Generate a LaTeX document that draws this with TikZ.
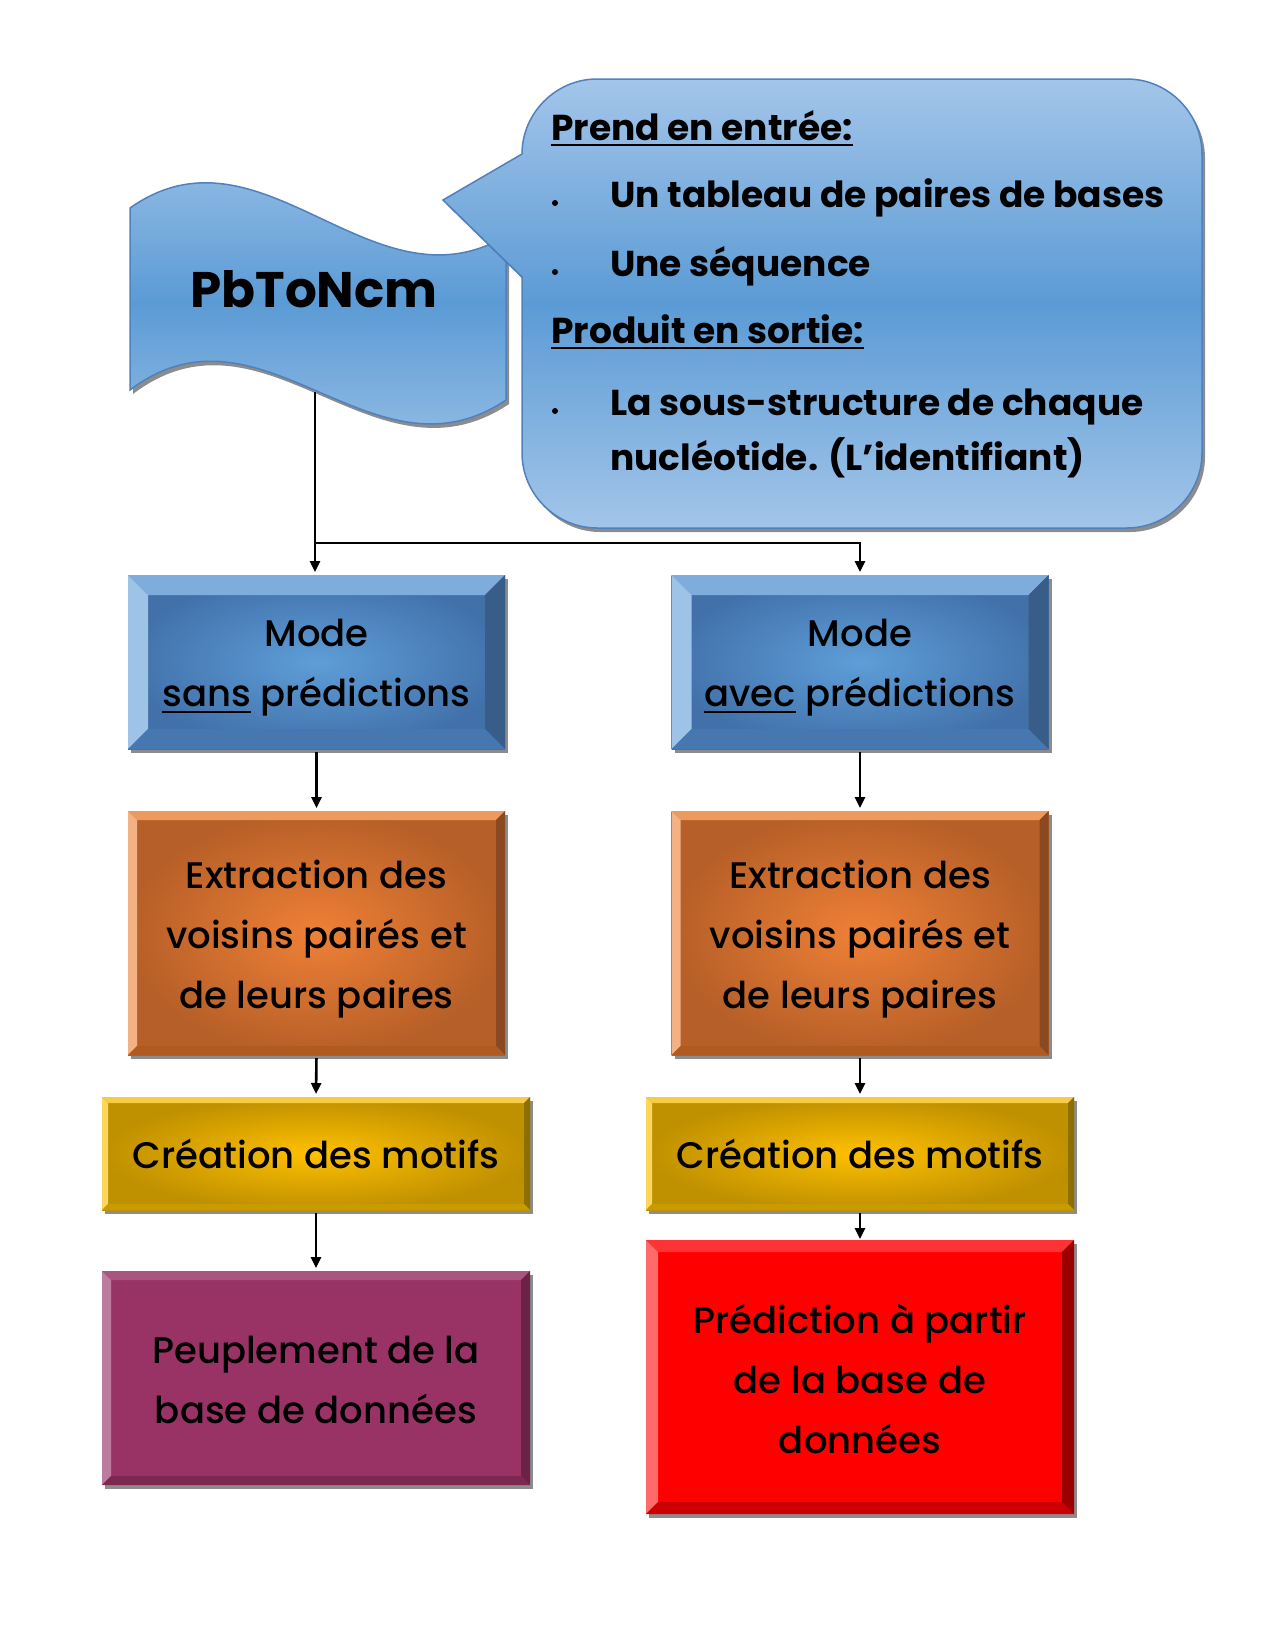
\documentclass[tikz,border=0pt]{standalone}
\usepackage{fontspec}
\setmainfont{Poppins}
\newfontfamily\medfont{Poppins Medium}
\usetikzlibrary{arrows.meta,calc,shadows}

% palette
\definecolor{skylight}{HTML}{A3C5E9}
\definecolor{skymid}{HTML}{5B9BD5}
\definecolor{skyedge}{HTML}{4F81BD}
\definecolor{bluein}{HTML}{5E9ED8}
\definecolor{blueout}{HTML}{4271AA}
\definecolor{bluetop}{HTML}{7EADDD}
\definecolor{blueleft}{HTML}{9DC3E6}
\definecolor{blueright}{HTML}{385D88}
\definecolor{bluebot}{HTML}{4677B0}
\definecolor{orgin}{HTML}{EF8036}
\definecolor{orgout}{HTML}{B65F28}
\definecolor{orgtop}{HTML}{EE9A5E}
\definecolor{orgleft}{HTML}{F4B183}
\definecolor{orgright}{HTML}{8A4920}
\definecolor{orgbot}{HTML}{B05A22}
\definecolor{goldin}{HTML}{FFC000}
\definecolor{goldout}{HTML}{BF9000}
\definecolor{goldtop}{HTML}{F6CB45}
\definecolor{goldleft}{HTML}{FFD55C}
\definecolor{goldright}{HTML}{8F6E00}
\definecolor{goldbot}{HTML}{C99B00}
\definecolor{plum}{HTML}{993366}
\definecolor{plumtop}{HTML}{A8567F}
\definecolor{plumleft}{HTML}{BE7BA0}
\definecolor{plumright}{HTML}{6A2346}
\definecolor{plumbot}{HTML}{7B2951}
\definecolor{redtop}{HTML}{FF3333}
\definecolor{redleft}{HTML}{FF6B6B}
\definecolor{redright}{HTML}{9B0000}
\definecolor{redbot}{HTML}{CC0000}

\newcommand\boxfont{\medfont\fontsize{37}{60}\selectfont}
\newcommand\callfont{\fontsize{36}{40}\selectfont\bfseries}
% underline set a little lower and thicker than the default one
\newcommand\ul[1]{\leavevmode\rlap{\rule[-6pt]{\widthof{#1}}{2pt}}#1}
\usepackage{calc}

% four bevel strips around a rectangular node
\newcommand\bevels[6]{%
  \fill[#3] (#1.north west) -- (#1.north east) -- ($(#1.north east)+(-#2,#2)$) -- ($(#1.north west)+(#2,#2)$) -- cycle;
  \fill[#4] (#1.north west) -- ($(#1.north west)+(#2,#2)$) -- ($(#1.south west)+(#2,-#2)$) -- (#1.south west) -- cycle;
  \fill[#5] (#1.north east) -- ($(#1.north east)+(-#2,#2)$) -- ($(#1.south east)+(-#2,-#2)$) -- (#1.south east) -- cycle;
  \fill[#6] (#1.south west) -- ($(#1.south west)+(#2,-#2)$) -- ($(#1.south east)+(-#2,-#2)$) -- (#1.south east) -- cycle;
}

\tikzset{
  shade/.style={drop shadow={shadow xshift=3pt, shadow yshift=-4pt, opacity=.45, fill=black}},
  box/.style={shade, inner sep=0pt, outer sep=0pt},
  boxtext/.style={align=center, font=\boxfont, text=black, inner sep=0pt},
  bluebox/.style={box, inner color=bluein, outer color=blueout, minimum width=377pt, minimum height=174pt},
  orgbox/.style={box, inner color=orgin, outer color=orgout, minimum width=377pt, minimum height=244pt},
  goldbox/.style={box, inner color=goldin, outer color=goldout, minimum width=428pt, minimum height=113pt},
  plumbox/.style={box, fill=plum, minimum width=428pt, minimum height=214pt},
  redbox/.style={box, fill=red, minimum width=428pt, minimum height=274pt},
  calltext/.style={font=\callfont, anchor=base west, inner sep=0pt, text=black},
  conn/.style={line width=2.6pt, -{Triangle[length=11pt,width=10pt]}, shorten >=3pt},
}

\begin{document}
\begin{tikzpicture}[x=1pt, y=-1pt]
\useasboundingbox (0,0) rectangle (1275,1650);

% wave banner
\path[shade, draw=skyedge, line width=1.5pt, top color=skylight, bottom color=skylight, middle color=skymid]
  (130,208) .. controls (262,115) and (372,315) .. (506,236)
  -- (506,400) .. controls (372,490) and (262,290) .. (130,390) -- cycle;
\node[font=\fontsize{50}{50}\selectfont\bfseries, anchor=base, inner sep=0pt] (pb) at (314,307) {PbToNcm};

% rounded callout with its pointer
\path[shade, draw=skyedge, line width=1.5pt, top color=skylight, bottom color=skylight, middle color=skymid]
  (522,277) -- (443,200) -- (522,154)
  .. controls (522,113) and (556,79) .. (597,79) -- (1127,79)
  .. controls (1168,79) and (1202,113) .. (1202,154) -- (1202,453)
  .. controls (1202,494) and (1168,528) .. (1127,528) -- (597,528)
  .. controls (556,528) and (522,494) .. (522,453) -- cycle;

\node[calltext] (h1) at (551,140) {\ul{Prend en entrée:}};
\node[calltext] (i1) at (610,207) {Un tableau de paires de bases};
\node[calltext] (i2) at (610,276) {Une séquence};
\node[calltext] (h2) at (551,343) {\ul{Produit en sortie:}};
\node[calltext] (i3) at (610,415) {La sous-structure de chaque};
\node[calltext] (i4) at (610,470) {nucléotide. (L’identifiant)};
\fill (555,203) circle (3pt);
\fill (555,272) circle (3pt);
\fill (555,411) circle (3pt);

% left column
\node[bluebox] (m1) at (316.5,662) {};
\bevels{m1}{20}{bluetop}{blueleft}{blueright}{bluebot}
\node[boxtext] (m1t) at ($(m1.center)+(0,6)$) {Mode\\\ul{sans} prédictions};
\node[orgbox] (e1) at (316.5,933) {};
\bevels{e1}{9}{orgtop}{orgleft}{orgright}{orgbot}
\node[boxtext] (e1t) at ($(e1.center)+(0,6)$) {Extraction des\\voisins pairés et\\de leurs paires};
\node[goldbox] (c1) at (316,1153.5) {};
\bevels{c1}{6}{goldtop}{goldleft}{goldright}{goldbot}
\node[boxtext] (c1t) at (c1.center) {Création des motifs};
\node[plumbox] (p1) at (316,1378) {};
\bevels{p1}{9}{plumtop}{plumleft}{plumright}{plumbot}
\node[boxtext] (p1t) at ($(p1.center)+(0,2)$) {Peuplement de la\\base de données};

% right column
\node[bluebox] (m2) at (860,662) {};
\bevels{m2}{20}{bluetop}{blueleft}{blueright}{bluebot}
\node[boxtext] (m2t) at ($(m2.center)+(0,6)$) {Mode\\\ul{avec} prédictions};
\node[orgbox] (e2) at (860,933) {};
\bevels{e2}{9}{orgtop}{orgleft}{orgright}{orgbot}
\node[boxtext] (e2t) at ($(e2.center)+(0,6)$) {Extraction des\\voisins pairés et\\de leurs paires};
\node[goldbox] (c2) at (860,1153.5) {};
\bevels{c2}{6}{goldtop}{goldleft}{goldright}{goldbot}
\node[boxtext] (c2t) at (c2.center) {Création des motifs};
\node[redbox] (r2) at (860,1377) {};
\bevels{r2}{12}{redtop}{redleft}{redright}{redbot}
\node[boxtext] (r2t) at ($(r2.center)+(0,2)$) {Prédiction à partir\\de la base de\\données};

% connectors
\coordinate (wavebot) at (315,392);
\coordinate (split) at (315,543);
\draw[conn] (wavebot) -- (wavebot |- m1.north);
\draw[conn] (split) -| (m2.north);
\draw[conn, shorten <=3pt] (m1.south) -- (e1.north);
\draw[conn, shorten <=3pt] (e1.south) -- (c1.north);
\draw[conn, shorten <=3pt] (c1.south) -- (p1.north);
\draw[conn, shorten <=3pt] (m2.south) -- (e2.north);
\draw[conn, shorten <=3pt] (e2.south) -- (c2.north);
\draw[conn, shorten <=3pt, shorten >=1pt] (c2.south) -- (r2.north);
\end{tikzpicture}
\end{document}
